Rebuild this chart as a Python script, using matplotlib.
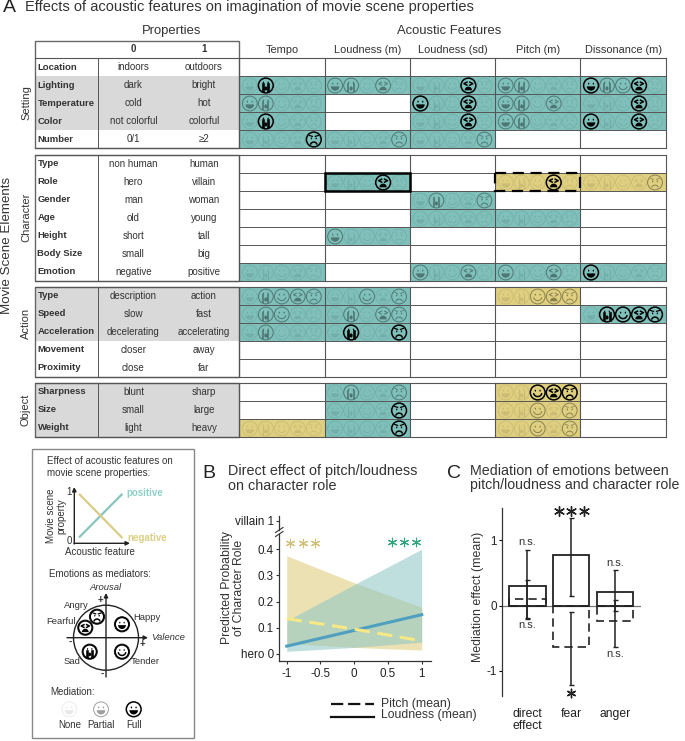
import numpy as np
import matplotlib
matplotlib.use("Agg")
import matplotlib.pyplot as plt
from matplotlib.patches import Rectangle, Circle, Wedge, Ellipse

plt.rcParams['font.family'] = ['Liberation Sans', 'DejaVu Sans']

W, H = 685, 741

# panel A table
row_names = ["Location", "Lighting", "Temperature", "Color", "Number",
             "Type", "Role", "Gender", "Age", "Height", "Body Size", "Emotion",
             "Type", "Speed", "Acceleration", "Movement", "Proximity",
             "Sharpness", "Size", "Weight"]
value_0 = ["indoors", "dark", "cold", "not colorful", "0/1",
           "non human", "hero", "man", "old", "short", "small", "negative",
           "description", "slow", "decelerating", "closer", "close",
           "blunt", "small", "light"]
value_1 = ["outdoors", "bright", "hot", "colorful", "≥2",
           "human", "villain", "woman", "young", "tall", "big", "positive",
           "action", "fast", "accelerating", "away", "far",
           "sharp", "large", "heavy"]
gray_rows = [1, 2, 3, 12, 13, 14, 17, 18, 19]
group_names = ["Setting", "Character", "Action", "Object"]
group_sizes = [5, 7, 5, 3]
group_label_y = [103, 217, 323, 410]
feature_names = ["Tempo", "Loudness (m)", "Loudness (sd)", "Pitch (m)", "Dissonance (m)"]

# each cell: "t" or "y" + mediation of happy, sad, tender, fearful, angry (0 none, 1 partial, 2 full)
tempo = [None, "t02000", "t11000", "t02000", "t00002",
         None, None, None, None, None, None, "t00000",
         "t01111", "t01100", "t01000", None, None,
         None, None, "y00000"]
loud_m = [None, "t11010", None, None, "t00001",
          None, "t00020", None, None, "t10000", None, None,
          "t00101", "t01011", "t02002", None, None,
          "t01001", "t00002", "t00002"]
loud_sd = [None, "t00020", "t20020", "t00020", "t00001",
           None, None, "t01001", "t00000", None, None, "t10010",
           None, None, None, None, None,
           None, None, None]
pitch_m = [None, "t11000", "t11010", "t11000", None,
           None, "y00020", None, "t00000", None, None, "t10010",
           "y00111", None, None, None, None,
           "y00222", "y00101", "y00101"]
dissonance = [None, "t21120", "t00020", "t20020", None,
              None, "y00001", None, None, None, None, "t20000",
              None, "t02222", None, None, None,
              None, None, None]
features = [tempo, loud_m, loud_sd, pitch_m, dissonance]

# panel B
x_pred = [-1, 0, 1]
pitch_line = [0.135, 0.095, 0.05]
pitch_low = [0.04, 0.025, 0.015]
pitch_high = [0.375, 0.272, 0.178]
loud_line = [0.03, 0.09, 0.15]
loud_low = [0.01, 0.025, 0.045]
loud_high = [0.127, 0.265, 0.40]

# panel C
mediators = ["direct\neffect", "fear", "anger"]
loud_effect = [0.30, 0.77, 0.21]
loud_ci_low = [-0.20, 0.15, -0.08]
loud_ci_high = [0.85, 1.34, 0.55]
pitch_effect = [0.10, -0.64, -0.23]
pitch_ci_low = [-0.19, -1.22, -0.63]
pitch_ci_high = [0.40, -0.09, 0.08]

TEAL = "#7fc0bb"
YELLOW = "#dfcf80"
GRAY = "#d9d9d9"
TXT = "#333333"
LINE = "#555555"

fig = plt.figure(figsize=(W / 100, H / 100), dpi=100)
ov = fig.add_axes([0, 0, 1, 1])
ov.set_xlim(0, W)
ov.set_ylim(H, 0)
ov.axis("off")


def px_axes(left, top, right, bottom):
    a = fig.add_axes([left / W, 1 - bottom / H, (right - left) / W, (bottom - top) / H])
    a.patch.set_alpha(0)
    return a


def label(x, y, s, size=7, ha="center", color=TXT, **kw):
    ov.text(x, y, s, fontsize=size, ha=ha, va="center", color=color, **kw)


def face(cx, cy, kind, level, r=7.4):
    alpha = [0.09, 0.38, 1][level]
    lw = [0.6, 0.7, 1.1][level]
    col = (0, 0, 0, alpha)
    ov.add_patch(Circle((cx, cy), r, fill=False, ec=col, lw=lw, zorder=4))

    def curve(x0, y0, rx, ry, t0, t1, lw2=lw):
        t = np.linspace(t0, t1, 14)
        ov.plot(cx + x0 * r + rx * r * np.cos(t), cy + y0 * r + ry * r * np.sin(t),
                color=col, lw=lw2, zorder=4, solid_capstyle="round")

    def dots(y0=-0.25):
        for s in (-1, 1):
            ov.add_patch(Ellipse((cx + s * 0.32 * r, cy + y0 * r), 0.18 * r, 0.26 * r,
                                 fc=col, ec="none", zorder=4))

    if kind == 0:  # happy
        dots()
        ov.add_patch(Wedge((cx, cy + 0.12 * r), 0.58 * r, 0, 180, fc=col, ec="none", zorder=4))
    elif kind == 1:  # sad
        dots(-0.4)
        for s in (-1, 1):
            ov.plot([cx + s * 0.36 * r] * 2, [cy - 0.15 * r, cy + 0.75 * r], color=col,
                    lw=lw * 1.7, zorder=4)
        ov.add_patch(Ellipse((cx, cy + 0.4 * r), 0.42 * r, 0.55 * r, fc=col, ec="none", zorder=4))
    elif kind == 2:  # tender
        dots()
        curve(0, 0.05, 0.55, 0.5, 0.2, np.pi - 0.2)
    elif kind == 3:  # fearful
        for s in (-1, 1):
            ex = cx + s * 0.4 * r
            ey = cy - 0.25 * r
            ov.plot([ex - s * 0.2 * r, ex + s * 0.2 * r, ex - s * 0.2 * r],
                    [ey - 0.2 * r, ey, ey + 0.2 * r], color=col, lw=lw, zorder=4)
        ov.add_patch(Wedge((cx, cy + 0.65 * r), 0.5 * r, 180, 360, fc=col, ec="none", zorder=4))
    else:  # angry
        dots(-0.15)
        curve(0, 0.75, 0.45, 0.4, np.pi + 0.3, 2 * np.pi - 0.3)
        for s in (-1, 1):
            ov.plot([cx + s * 0.6 * r, cx + s * 0.2 * r], [cy - 0.55 * r, cy - 0.42 * r],
                    color=col, lw=lw * 0.8, zorder=4)


# ---- panel A ----
label(9, 8, "A", size=14, color="#222222")
label(25, 7.5, "Effects of acoustic features on imagination of movie scene properties", size=10.5, ha="left")
label(172, 31, "Properties", size=9.4)
label(449, 31, "Acoustic Features", size=9.4)

col_x = [239.3 + 85.3 * i for i in range(6)]
group_tops = [58, 155, 287, 383]
ROW_H = 18

label(133.5, 49, "0", size=7, fontweight="bold")
label(204, 49, "1", size=7, fontweight="bold")
for i, name in enumerate(feature_names):
    label(col_x[i] + 42.6, 50, name, size=7.9)

row = 0
for g, (top, n) in enumerate(zip(group_tops, group_sizes)):
    bottom = top + n * ROW_H
    for k in range(n):
        y0 = top + k * ROW_H
        yc = y0 + ROW_H / 2
        if row in gray_rows:
            ov.add_patch(Rectangle((35, y0), col_x[0] - 35, ROW_H, fc=GRAY, ec="none", zorder=1))
        label(37.5, yc, row_names[row], size=6.8, ha="left", fontweight="bold")
        label(133.5, yc, value_0[row], size=7)
        label(204, yc, value_1[row], size=7)
        for c, feat in enumerate(features):
            cell = feat[row]
            if cell is None:
                continue
            ov.add_patch(Rectangle((col_x[c], y0), col_x[c + 1] - col_x[c], ROW_H,
                                   fc=TEAL if cell[0] == "t" else YELLOW, ec="none", zorder=1))
            for f in range(5):
                face(col_x[c] + 10.5 + 16 * f, yc + 0.5, f, int(cell[f + 1]))
        if k > 0:
            ov.plot([col_x[0], col_x[5]], [y0, y0], color=LINE, lw=0.7, zorder=2)
        row += 1
    ytop = top if g > 0 else 41
    ov.add_patch(Rectangle((35, ytop), col_x[0] - 35, bottom - ytop, fill=False, ec="#666666", lw=1, zorder=3))
    ov.plot([98, 98], [top, bottom], color=LINE, lw=0.7, zorder=2)
    ov.plot([35, col_x[5]], [top, top], color=LINE, lw=0.8, zorder=3)
    ov.plot([35, col_x[5]], [bottom, bottom], color=LINE, lw=0.8, zorder=3)
    for x in col_x:
        ov.plot([x, x], [top, bottom], color=LINE, lw=0.8, zorder=3)
    label(26, group_label_y[g], group_names[g], size=8, rotation=90)

label(7, 245, "Movie Scene Elements", size=9.6, rotation=90)

# highlighted role cells
role_y = group_tops[1] + ROW_H
ov.add_patch(Rectangle((col_x[1], role_y), col_x[2] - col_x[1], ROW_H, fill=False, ec="black", lw=1.8, zorder=5))
ov.add_patch(Rectangle((col_x[3], role_y), col_x[4] - col_x[3], ROW_H, fill=False, ec="black", lw=1.6,
                       ls=(0, (5, 3)), zorder=5))

# ---- key box ----
ov.add_patch(Rectangle((32.3, 449.3), 162, 288.7, fill=False, ec="#888888", lw=1))
label(46.7, 460.7, "Effect of acoustic features on", size=7, ha="left")
label(46.7, 473, "movie scene properties:", size=7, ha="left")

mini = px_axes(74.3, 488, 129.3, 543.3)
mini.axis("off")
mini.set_xlim(0, 1)
mini.set_ylim(0, 1)
mini.plot([0.1, 0.86], [0.12, 0.88], color="#86c4bf", lw=1.6)
mini.plot([0.1, 0.86], [0.88, 0.11], color="#d8cc86", lw=1.6)
ov.annotate("", xy=(74.3, 487), xytext=(74.3, 544), arrowprops=dict(arrowstyle="-|>", color="#222222", lw=1, mutation_scale=6, shrinkA=0, shrinkB=0))
ov.annotate("", xy=(130, 543.3), xytext=(74, 543.3), arrowprops=dict(arrowstyle="-|>", color="#222222", lw=1, mutation_scale=6, shrinkA=0, shrinkB=0))
label(69, 492, "1", size=7)
label(69, 541, "0", size=7)
label(145, 492.7, "positive", size=7, color="#8fd0cb", fontweight="bold")
label(147, 537.7, "negative", size=7, color="#dccf85", fontweight="bold")
label(56, 515.7, "Movie scene\nproperty", size=7, rotation=90, linespacing=1.0)
label(100, 552, "Acoustic feature", size=7)
label(49.3, 574, "Emotions as mediators:", size=7, ha="left")

cx, cy = 106, 637.7
ov.add_patch(Circle((cx, cy), 32.5, fill=False, ec="#222222", lw=1))
ov.annotate("", xy=(148, cy), xytext=(67, cy), arrowprops=dict(arrowstyle="-|>", color="#222222", lw=1, mutation_scale=6, shrinkA=0, shrinkB=0))
ov.annotate("", xy=(cx, 593), xytext=(cx, 677), arrowprops=dict(arrowstyle="-|>", color="#222222", lw=1, mutation_scale=6, shrinkA=0, shrinkB=0))
wheel_x = [122, 89.7, 122, 85.3, 97]
wheel_y = [624.3, 651.7, 651.7, 627.7, 616.7]
for f, (wx, wy) in enumerate(zip(wheel_x, wheel_y)):
    ov.add_patch(Circle((wx, wy), 7.6, fc="white", ec="#222222", lw=0.7, zorder=3))
    face(wx, wy, f, 2, r=6.8)
label(106, 588, "Arousal", size=6.8, style="italic")
label(168, 638, "Valence", size=6.8, style="italic")
label(76, 605, "Angry", size=6.8)
label(147, 617, "Happy", size=6.8)
label(60.7, 622, "Fearful", size=6.8)
label(71.7, 662, "Sad", size=6.8)
label(145, 662, "Tender", size=6.8)
label(100.7, 600, "+", size=7, fontweight="bold")
label(142.3, 643.7, "+", size=7, fontweight="bold")
label(70, 642, "-", size=7, fontweight="bold")
label(102.7, 674, "-", size=7, fontweight="bold")
label(50.7, 691.7, "Mediation:", size=7, ha="left")
med_x = [69.3, 101, 133.7]
for lev, (mx, name) in enumerate(zip(med_x, ["None", "Partial", "Full"])):
    face(mx, 709.3, 0, lev)
    label(mx, 725, name, size=7)

# ---- panel B ----
label(209, 473, "B", size=14, color="#222222")
label(228, 471, "Direct effect of pitch/loudness", size=10.4, ha="left")
label(228, 485.5, "on character role", size=10.4, ha="left")

axb = px_axes(279.3, 534, 430.7, 660.7)
axb.set_xlim(-1.11, 1.133)
axb.set_ylim(-0.0256, 0.458)
axb.fill_between(x_pred, pitch_low, pitch_high, color="#e6d89a", alpha=0.75, lw=0)
axb.fill_between(x_pred, loud_low, loud_high, color="#8cc6c4", alpha=0.55, lw=0)
axb.plot(x_pred, loud_line, color="#4f9fc0", lw=2.2)
axb.plot(x_pred, pitch_line, color="#f6e884", lw=2.2, dashes=(5, 2.5))
for s in ("top", "right"):
    axb.spines[s].set_visible(False)
for s in ("left", "bottom"):
    axb.spines[s].set_color("#333333")
    axb.spines[s].set_linewidth(0.9)
axb.set_xticks([-1, -0.5, 0, 0.5, 1])
axb.set_xticklabels(["-1", "-0.5", "0", "0.5", "1"])
axb.set_yticks([0, 0.1, 0.2, 0.3, 0.4])
axb.set_yticklabels(["hero 0", "0.1", "0.2", "0.3", "0.4"])
axb.tick_params(labelsize=8.4, length=2.5, width=0.8, pad=1.5, labelcolor="#222222", color="#333333")
axb.tick_params(axis="x", pad=3)
label(233.5, 588, "Predicted Probability\nof Character Role", size=8.8, rotation=90, linespacing=1.0)
axb.scatter([-0.95, -0.76, -0.576], [0.425] * 3, marker=(6, 2, 0), s=38, color="#cdbf74", lw=0.8, clip_on=False)
axb.scatter([0.56, 0.74, 0.92], [0.428] * 3, marker=(6, 2, 0), s=38, color="#2fa57c", lw=0.8, clip_on=False)

axt = px_axes(279.3, 516, 430.7, 530)
axt.set_ylim(0.336, 1.336)
axt.set_xticks([])
axt.set_yticks([1])
axt.set_yticklabels(["villain 1"])
axt.tick_params(labelsize=8.4, length=2.5, width=0.8, pad=1.5, labelcolor="#222222", color="#333333")
for s in ("top", "right", "bottom"):
    axt.spines[s].set_visible(False)
axt.spines["left"].set_color("#333333")
axt.spines["left"].set_linewidth(0.9)
for yb in (530, 534):
    ov.plot([275.5, 283], [yb + 2.5, yb - 2.5], color="#333333", lw=0.8)

ov.plot([330.7, 374], [704, 704], color="#111111", lw=1.6, dashes=(5.5, 2.2))
ov.plot([330.7, 374], [717, 717], color="#111111", lw=1.6)
label(381, 704, "Pitch (mean)", size=8.8, ha="left")
label(381, 715, "Loudness (mean)", size=8.8, ha="left")

# ---- panel C ----
label(454, 473, "C", size=14, color="#222222")
label(470, 471, "Mediation of emotions between", size=10.3, ha="left")
label(470, 485.5, "pitch/loudness and character role", size=10.2, ha="left")

axc = px_axes(502.3, 508, 640.7, 695.7)
axc.set_xlim(-0.57, 2.583)
axc.set_ylim(-1.38, 1.498)
pos = np.arange(len(mediators))
axc.bar(pos, loud_effect, width=0.83, fill=False, edgecolor="#222222", lw=1.3)
axc.bar(pos, pitch_effect, width=0.83, fill=False, edgecolor="#222222", lw=1.2, ls=(0, (5, 3)))
for ef, lo, hi in ((loud_effect, loud_ci_low, loud_ci_high), (pitch_effect, pitch_ci_low, pitch_ci_high)):
    axc.errorbar(pos, ef, yerr=[np.array(ef) - np.array(lo), np.array(hi) - np.array(ef)], fmt="none",
                 ecolor="#222222", elinewidth=1.1, capsize=1.8, capthick=1)
axc.axhline(0, color="#777777", lw=0.9, zorder=0)
for s in ("top", "right", "bottom"):
    axc.spines[s].set_visible(False)
axc.spines["left"].set_color("#333333")
axc.spines["left"].set_linewidth(0.9)
axc.set_yticks([-1, 0, 1])
axc.set_yticklabels(["-1", "0", "1"])
axc.set_xticks(pos)
axc.set_xticklabels(mediators, linespacing=1.0)
axc.tick_params(axis="y", labelsize=8.4, length=2.5, width=0.8, pad=1.5, labelcolor="#222222")
axc.tick_params(axis="x", labelsize=8.7, length=0, pad=9, labelcolor="#222222")
label(477.7, 597, "Mediation effect (mean)", size=8.9, rotation=90)
for xn, yn in ((0, 0.97), (0, -0.3), (2, 0.66), (2, -0.74)):
    axc.text(xn, yn, "n.s.", fontsize=8, ha="center", va="center", color=TXT)
axc.scatter([0.715, 1, 1.285], [1.45] * 3, marker=(6, 2, 0), s=50, color="#222222", lw=1, clip_on=False)
axc.scatter([1], [-1.34], marker=(6, 2, 0), s=38, color="#222222", lw=1, clip_on=False)

fig.savefig("out.png", dpi=100)
